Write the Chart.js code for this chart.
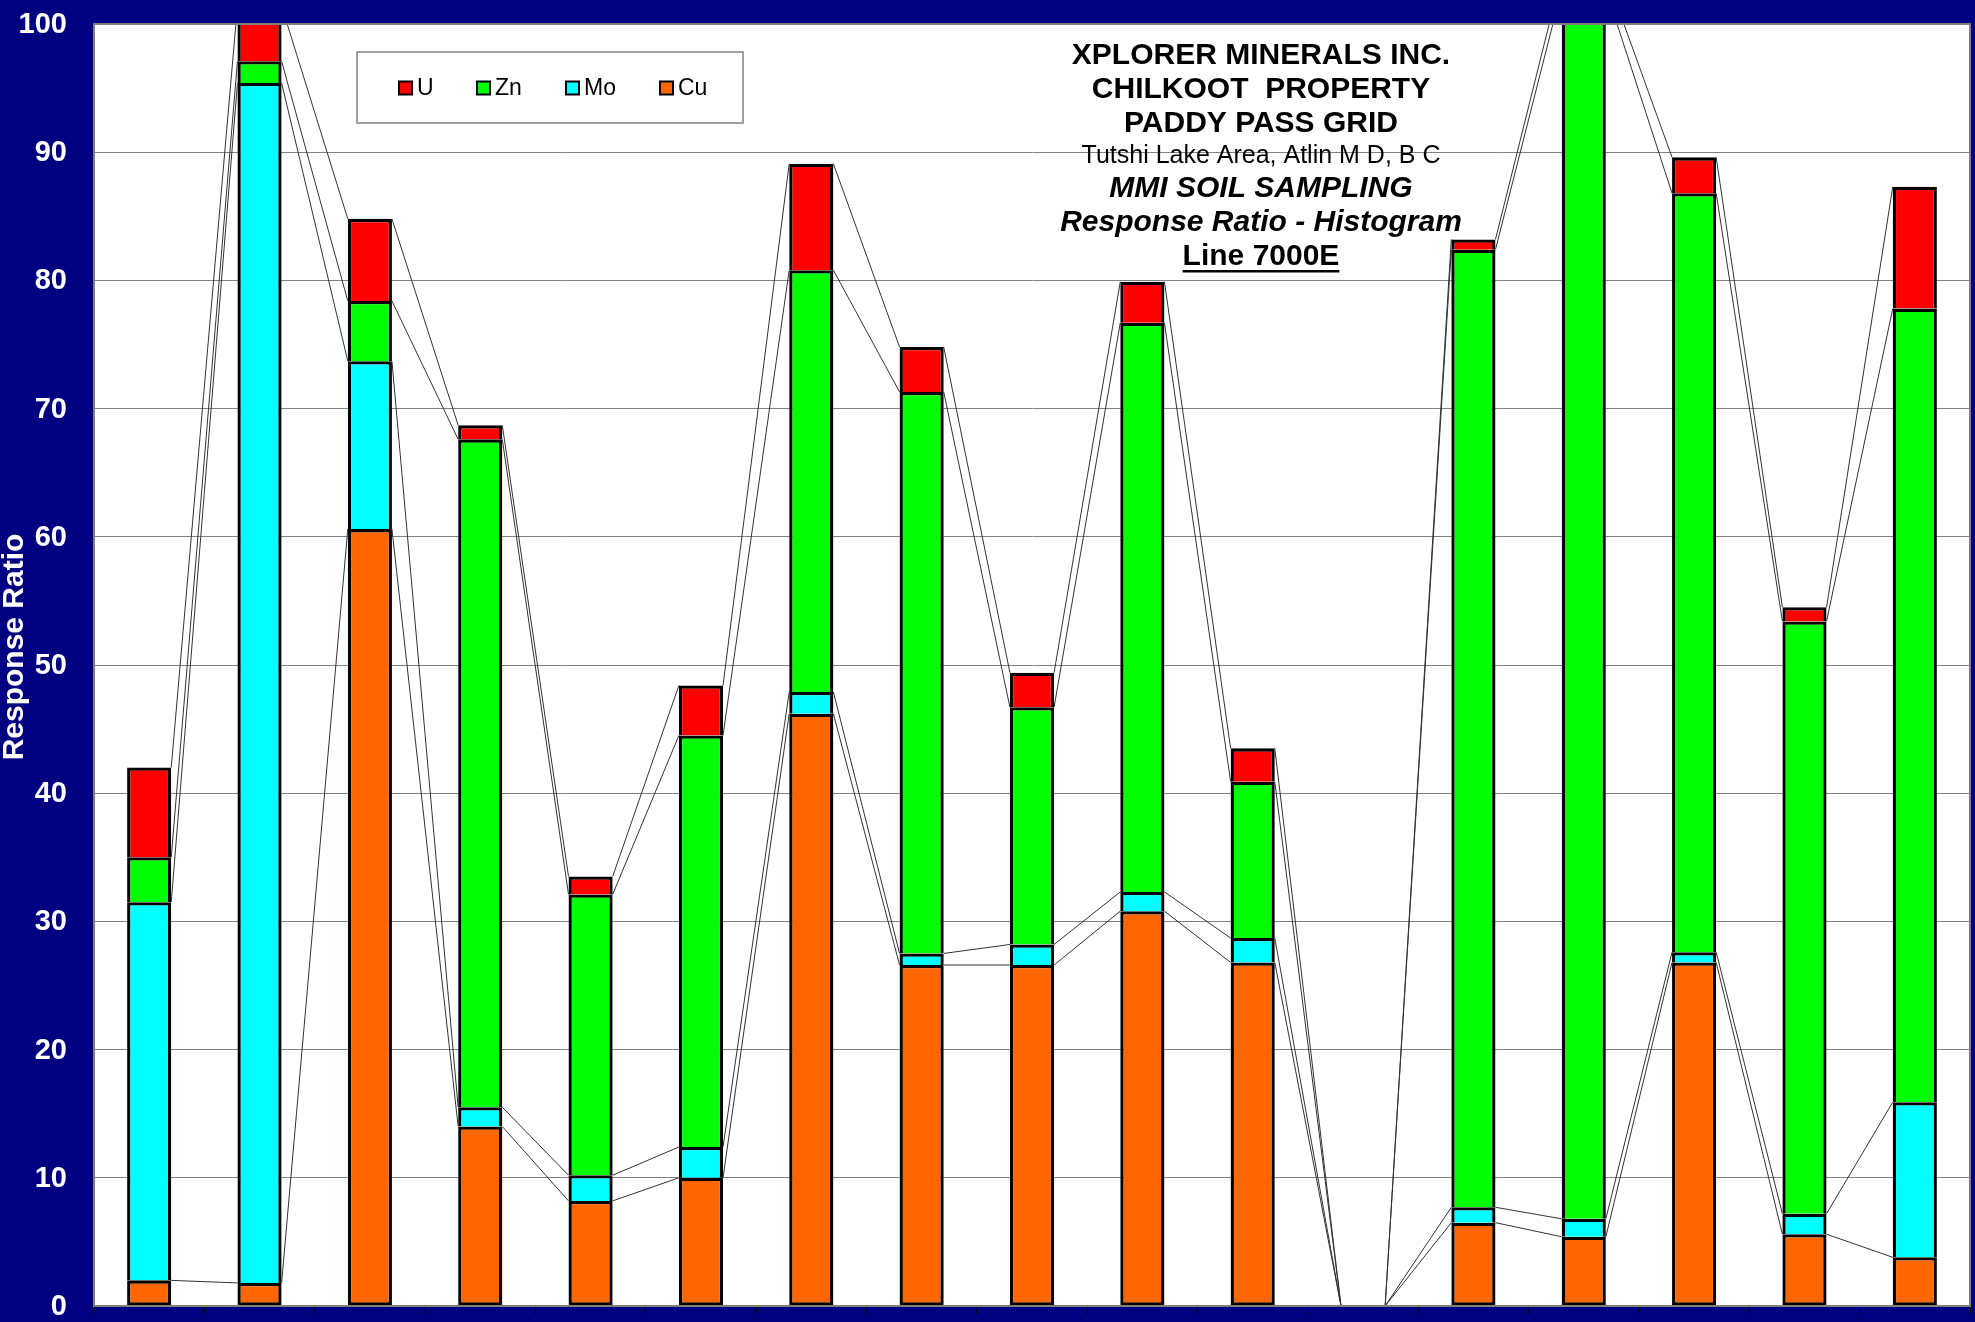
<!DOCTYPE html>
<html>
<head>
<meta charset="utf-8">
<script src="https://cdn.jsdelivr.net/npm/chart.js@4.4.1/dist/chart.umd.min.js"></script>
<style>
  html, body { margin: 0; padding: 0; background: #000080; }
  canvas { display: block; }
</style>
</head>
<body>
<canvas id="chart" width="1975" height="1322"></canvas>
<script>
// Soil sample stations along Line 7000E (left to right)
const stations = ['1', '2', '3', '4', '5', '6', '7', '8', '9', '10', '11', '12', '13', '14', '15', '16', '17'];

// Response ratio per element (stacked: Cu bottom, then Mo, Zn, U on top)
const cuValues = [2.0, 1.8, 60.6, 14.0, 8.2, 10.0, 46.2, 26.6, 26.6, 30.8, 26.8, 0, 6.5, 5.4, 26.8, 5.6, 3.8];
const moValues = [29.5, 93.6, 13.1, 1.5, 2.0, 2.4, 1.7, 0.9, 1.6, 1.5, 1.9, 0, 1.2, 1.4, 0.8, 1.6, 12.1];
const znValues = [3.5, 1.7, 4.7, 52.1, 21.9, 32.1, 32.9, 43.8, 18.5, 44.4, 12.2, 0, 74.7, 95.9, 59.2, 46.2, 61.9];
const uValues  = [7.0, 4.3, 6.4, 1.1, 1.4, 3.9, 8.3, 3.5, 2.7, 3.2, 2.6, 0, 0.8, 1.2, 2.8, 1.1, 9.5];

const yTicks = [0, 10, 20, 30, 40, 50, 60, 70, 80, 90, 100];

const titleLines = [
  { text: 'XPLORER MINERALS INC.', font: 'bold 30px', y: 64 },
  { text: 'CHILKOOT  PROPERTY', font: 'bold 30px', y: 98 },
  { text: 'PADDY PASS GRID', font: 'bold 30px', y: 132 },
  { text: 'Tutshi Lake Area, Atlin M D, B C', font: '25px', y: 163 },
  { text: 'MMI SOIL SAMPLING', font: 'italic bold 30px', y: 197 },
  { text: 'Response Ratio - Histogram', font: 'italic bold 30px', y: 231 },
  { text: 'Line 7000E', font: 'bold 30px', y: 265, underline: true }
];

const FONT = '"Liberation Sans", Arial, Helvetica, sans-serif';
const NAVY = '#000080';
const GRID = '#808080';

// Navy page with a white plotting area
const backdrop = {
  id: 'backdrop',
  beforeDraw(chart) {
    const { ctx, chartArea: a } = chart;
    ctx.save();
    ctx.fillStyle = NAVY;
    ctx.fillRect(0, 0, chart.width, chart.height);
    ctx.fillStyle = '#ffffff';
    ctx.fillRect(a.left, a.top, a.right - a.left, a.bottom - a.top);
    ctx.restore();
  }
};

// Thin lines joining the top of each stacked segment to the same segment in the next bar
const seriesLines = {
  id: 'seriesLines',
  afterDatasetsDraw(chart) {
    const { ctx, chartArea: a } = chart;
    ctx.save();
    ctx.beginPath();
    ctx.rect(a.left, a.top, a.right - a.left, a.bottom - a.top);
    ctx.clip();
    ctx.strokeStyle = '#333333';
    ctx.lineWidth = 1;
    chart.data.datasets.forEach((ds, di) => {
      const meta = chart.getDatasetMeta(di);
      for (let i = 0; i < meta.data.length - 1; i++) {
        const p = meta.data[i], q = meta.data[i + 1];
        ctx.beginPath();
        ctx.moveTo(p.x + p.width / 2, p.y);
        ctx.lineTo(q.x - q.width / 2, q.y);
        ctx.stroke();
      }
    });
    ctx.restore();
  }
};

// Plot frame, y tick labels, legend box, title block and axis title
const decorations = {
  id: 'decorations',
  afterDraw(chart) {
    const { ctx, chartArea: a } = chart;
    const yScale = chart.scales.y;
    ctx.save();

    // frame
    ctx.strokeStyle = GRID;
    ctx.lineWidth = 2;
    ctx.strokeRect(a.left, a.top, a.right - a.left, a.bottom - a.top);

    // y tick labels
    ctx.font = 'bold 29px ' + FONT;
    ctx.fillStyle = '#ffffff';
    ctx.textAlign = 'right';
    ctx.textBaseline = 'middle';
    yTicks.forEach(v => {
      ctx.fillText(String(v), a.left - 27, yScale.getPixelForValue(v) + 1);
    });

    // legend
    const lx = 357, ly = 52, lw = 386, lh = 71;
    ctx.fillStyle = '#ffffff';
    ctx.fillRect(lx, ly, lw, lh);
    ctx.strokeStyle = GRID;
    ctx.lineWidth = 1.5;
    ctx.strokeRect(lx, ly, lw, lh);
    const items = chart.data.datasets.slice().reverse();
    const markerX = [399, 477, 566, 660];
    const cy = 88;
    ctx.font = '23px ' + FONT;
    ctx.textBaseline = 'middle';
    ctx.textAlign = 'left';
    items.forEach((ds, i) => {
      ctx.fillStyle = ds.backgroundColor;
      ctx.fillRect(markerX[i], cy - 6.5, 13, 13);
      ctx.strokeStyle = '#000000';
      ctx.lineWidth = 2;
      ctx.strokeRect(markerX[i], cy - 6.5, 13, 13);
      ctx.fillStyle = '#000000';
      ctx.fillText(ds.label, markerX[i] + 18, cy + 1);
    });

    // title block
    const tx = 1261;
    ctx.textAlign = 'center';
    ctx.textBaseline = 'alphabetic';
    ctx.fillStyle = '#000000';
    titleLines.forEach(line => {
      ctx.font = line.font + ' ' + FONT;
      ctx.fillText(line.text, tx, line.y);
      if (line.underline) {
        const w = ctx.measureText(line.text).width;
        ctx.fillRect(tx - w / 2, line.y + 5, w, 2.5);
      }
    });

    // y axis title
    ctx.translate(23, 647);
    ctx.rotate(-Math.PI / 2);
    ctx.font = 'bold 30px ' + FONT;
    ctx.fillStyle = '#ffffff';
    ctx.textAlign = 'center';
    ctx.textBaseline = 'alphabetic';
    ctx.fillText('Response Ratio', 0, 0);

    ctx.restore();
  }
};

// Each segment outlines its top and sides; only the bottom segment outlines its base,
// so adjacent segments share a single dividing line.
const EDGE = 3.3;
const barStyle = {
  borderColor: '#000000',
  borderWidth: (c) => ({ top: EDGE, left: EDGE, right: EDGE, bottom: c.datasetIndex === 0 ? EDGE : 0 }),
  borderSkipped: false,
  barPercentage: 0.4,
  categoryPercentage: 1.0,
  stack: 'ratio'
};

new Chart(document.getElementById('chart'), {
  type: 'bar',
  data: {
    labels: stations,
    datasets: [
      { label: 'Cu', data: cuValues, backgroundColor: '#FF6600', ...barStyle },
      { label: 'Mo', data: moValues, backgroundColor: '#00FFFF', ...barStyle },
      { label: 'Zn', data: znValues, backgroundColor: '#00FF00', ...barStyle },
      { label: 'U',  data: uValues,  backgroundColor: '#FF0000', ...barStyle }
    ]
  },
  options: {
    responsive: false,
    animation: false,
    layout: { padding: { top: 24, right: 5, bottom: 0, left: 0 } },
    plugins: {
      legend: { display: false },
      tooltip: { enabled: false },
      title: { display: false }
    },
    scales: {
      x: {
        stacked: true,
        offset: true,
        ticks: { display: false },
        grid: {
          offset: true,
          drawOnChartArea: false,
          drawTicks: true,
          tickLength: 8,
          color: '#000000',
          lineWidth: 1
        },
        border: { display: true, color: GRID, width: 2 },
        afterFit(scale) { scale.height = 16; }
      },
      y: {
        stacked: true,
        min: 0,
        max: 100,
        afterBuildTicks(scale) { scale.ticks = yTicks.map(v => ({ value: v })); },
        ticks: { display: false },
        grid: { color: GRID, lineWidth: 1, drawTicks: false },
        border: { display: true, color: GRID, width: 2 },
        afterFit(scale) { scale.width = 94; }
      }
    }
  },
  plugins: [backdrop, seriesLines, decorations]
});
</script>
</body>
</html>
